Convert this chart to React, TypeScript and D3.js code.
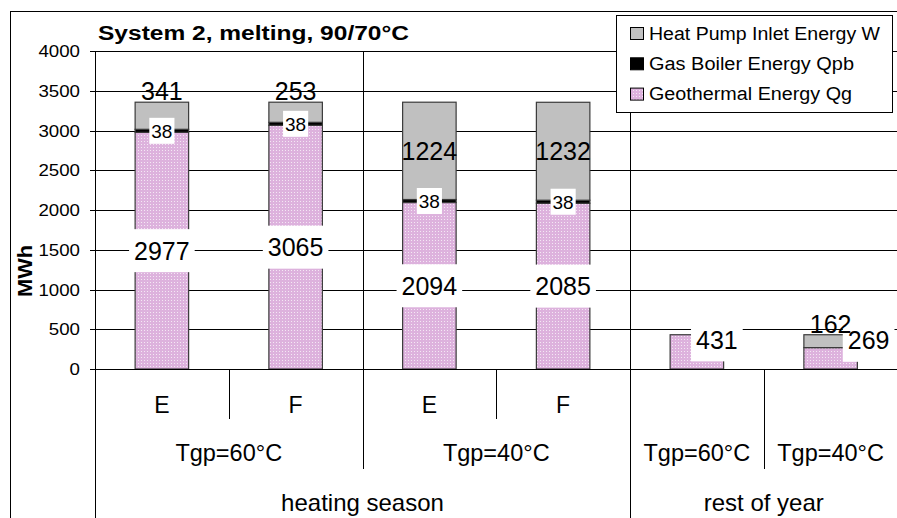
import React from 'react';
import * as d3 from 'd3';

const categories = ['E', 'F', 'E', 'F', '', ''];
const tgpLabels = ['Tgp=60°C', 'Tgp=40°C', 'Tgp=60°C', 'Tgp=40°C'];
const tgpSpans = [2, 2, 1, 1];
const seasonLabels = ['heating season', 'rest of year'];
const seasonSpans = [4, 2];
const geothermalQg = [2977, 3065, 2094, 2085, 431, 269];
const gasBoilerQpb = [38, 38, 38, 38, 0, 0];
const heatPumpW = [341, 253, 1224, 1232, 0, 162];
const yTicks = [0, 500, 1000, 1500, 2000, 2500, 3000, 3500, 4000];
const legendLabels = ['Heat Pump Inlet Energy W', 'Gas Boiler Energy Qpb', 'Geothermal Energy Qg'];
// manual label shifts (px) for the Qg labels of the small bars
const qgLabelShift: [number, number][] = [[0, 0], [0, 0], [0, 0], [0, 0], [20, -12], [38, -18]];
const dividerIdx = [2, 4];

const W = 897, H = 518;
const plotL = 95, plotR = 897.5, plotT = 51, plotB = 369;
const FONT = '"Liberation Sans", Arial, sans-serif';
const GREY = '#C0C0C0';
const EDGE = '#3a3a3a';
const PINK = '#DDB2DD';

export default function App() {
  const x = d3.scaleBand<number>().domain(d3.range(categories.length)).range([plotL, plotR]).paddingInner(0).paddingOuter(0);
  const y = d3.scaleLinear().domain([0, 4000]).range([plotB, plotT]);
  const step = x.step();
  const bw = step * 0.4;
  const xb = (i: number) => plotL + i * step;
  const cx = (i: number) => (x(i) as number) + step / 2;

  const cum = (spans: number[]) => {
    const out: number[] = [];
    let s = 0;
    spans.forEach((v) => { out.push(s); s += v; });
    return out;
  };
  const tgpStarts = cum(tgpSpans);
  const seasonStarts = cum(seasonSpans);

  const segs = categories.map((_, i) => {
    const q0 = 0, q1 = geothermalQg[i];
    const p1 = q1 + gasBoilerQpb[i];
    const w1 = p1 + heatPumpW[i];
    return { q0, q1, p1, w1 };
  });

  const bigFs = 25, smallFs = 19;

  return (
    <svg width={W} height={H} style={{ position: 'absolute', left: 0, top: 0, display: 'block', background: '#fff' }} fontFamily={FONT}>
      <defs>
        <pattern id="geo" x="0" y="0" width="3" height="3" patternUnits="userSpaceOnUse">
          <rect x="0" y="0" width="3" height="3" fill={PINK} />
          <rect x="0" y="0" width="1" height="1" fill="#F4E8F4" />
        </pattern>
      </defs>
      <rect x={0} y={0} width={W} height={H} fill="#fff" />
      {/* outer chart border */}
      <rect x={10.5} y={11.5} width={W + 10} height={H + 10} fill="none" stroke="#000" strokeWidth={1} />

      {/* gridlines */}
      {yTicks.filter((t) => t > 0).map((t) => (
        <line key={'g' + t} x1={plotL} x2={plotR} y1={Math.round(y(t)) + 0.5} y2={Math.round(y(t)) + 0.5} stroke="#000" strokeWidth={1} />
      ))}
      {/* vertical dividers in plot */}
      {dividerIdx.map((d) => (
        <line key={'d' + d} x1={Math.round(xb(d)) + 0.5} x2={Math.round(xb(d)) + 0.5} y1={plotT} y2={plotB} stroke="#000" strokeWidth={1} />
      ))}

      {/* bars */}
      {segs.map((s, i) => {
        const x0 = cx(i) - bw / 2;
        const parts = [
          { a: s.q0, b: s.q1, fill: 'url(#geo)' },
          { a: s.q1, b: s.p1, fill: '#000' },
          { a: s.p1, b: s.w1, fill: GREY },
        ].filter((p) => p.b > p.a);
        return (
          <g key={'b' + i}>
            {parts.map((p, k) => (
              <rect key={k} x={x0} y={y(p.b)} width={bw} height={y(p.a) - y(p.b)} fill={p.fill} stroke={EDGE} strokeWidth={1.2} />
            ))}
          </g>
        );
      })}

      {/* y axis */}
      <line x1={plotL + 0.5} x2={plotL + 0.5} y1={plotT} y2={H} stroke="#000" strokeWidth={1} />
      <line x1={plotL} x2={plotR} y1={Math.round(plotB) + 0.5} y2={Math.round(plotB) + 0.5} stroke="#000" strokeWidth={1} />
      {yTicks.map((t) => (
        <g key={'t' + t}>
          <line x1={plotL - 5} x2={plotL} y1={Math.round(y(t)) + 0.5} y2={Math.round(y(t)) + 0.5} stroke="#000" />
          <g transform={`translate(80,${y(t)}) scale(1.1,1)`}>
            <text textAnchor="end" dy="0.36em" fontSize={17} fill="#000">{t}</text>
          </g>
        </g>
      ))}
      <text transform={`translate(32,271) rotate(-90)`} textAnchor="middle" fontSize={20} fontWeight="bold" textLength={52} lengthAdjust="spacingAndGlyphs">MWh</text>

      {/* multi-level category axis */}
      {d3.range(1, categories.length).map((b) => {
        const isSeason = seasonStarts.includes(b);
        const isTgp = tgpStarts.includes(b);
        const y2 = isSeason ? H : isTgp ? 469 : 419;
        return <line key={'c' + b} x1={Math.round(xb(b)) + 0.5} x2={Math.round(xb(b)) + 0.5} y1={plotB} y2={y2} stroke="#000" strokeWidth={1} />;
      })}
      {categories.map((c, i) => (
        <text key={'cl' + i} x={cx(i)} y={413} textAnchor="middle" fontSize={23}>{c}</text>
      ))}
      {tgpLabels.map((l, k) => (
        <text key={'tg' + k} x={xb(tgpStarts[k]) + (tgpSpans[k] * step) / 2} y={461} textAnchor="middle" fontSize={23.5}>{l}</text>
      ))}
      {seasonLabels.map((l, k) => (
        <text key={'se' + k} x={xb(seasonStarts[k]) + (seasonSpans[k] * step) / 2} y={510.5} textAnchor="middle" fontSize={24}>{l}</text>
      ))}

      {/* data labels */}
      {segs.map((s, i) => {
        const c = cx(i);
        const out: JSX.Element[] = [];
        const qv = geothermalQg[i];
        if (qv > 0) {
          const [dx, dy] = qgLabelShift[i];
          const lx = c + dx, ly = (y(s.q0) + y(s.q1)) / 2 + dy;
          const txt = String(qv);
          const bwid = txt.length * 0.556 * bigFs + 10;
          out.push(<rect key="qb" x={lx - bwid / 2} y={ly - 21.5} width={bwid} height={43} fill="#fff" />);
          out.push(<text key="qt" x={lx} y={ly} dy="0.36em" textAnchor="middle" fontSize={bigFs}>{txt}</text>);
        }
        const pv = gasBoilerQpb[i];
        if (pv > 0) {
          const ly = (y(s.q1) + y(s.p1)) / 2;
          const txt = String(pv);
          const bwid = txt.length * 0.556 * smallFs + 4;
          out.push(<rect key="pb" x={c - bwid / 2} y={ly - 13} width={bwid} height={26} fill="#fff" />);
          out.push(<text key="pt" x={c} y={ly} dy="0.36em" textAnchor="middle" fontSize={smallFs}>{txt}</text>);
        }
        const wv = heatPumpW[i];
        if (wv > 0) {
          const segH = y(s.p1) - y(s.w1);
          const txt = String(wv);
          if (segH < 30) {
            out.push(<text key="wt" x={c} y={y(s.w1) - 2} textAnchor="middle" fontSize={bigFs}>{txt}</text>);
          } else {
            out.push(<text key="wt" x={c} y={(y(s.p1) + y(s.w1)) / 2} dy="0.36em" textAnchor="middle" fontSize={bigFs}>{txt}</text>);
          }
        }
        return <g key={'l' + i}>{out}</g>;
      })}

      {/* title */}
      <text x={98} y={39.5} fontSize={20} fontWeight="bold" textLength={311} lengthAdjust="spacingAndGlyphs">System 2, melting, 90/70°C</text>

      {/* legend */}
      <rect x={616.5} y={15.5} width={276} height={97} fill="#fff" stroke="#000" strokeWidth={1} />
      {legendLabels.map((l, k) => {
        const base = 39.5 + k * 30.3;
        const fills = [GREY, '#000', 'url(#geo)'];
        const lens = [231, 205, 203];
        return (
          <g key={'lg' + k}>
            <rect x={630.5} y={base - 12} width={13} height={12} fill={fills[k]} stroke="#000" strokeWidth={1} />
            <text x={649} y={base} fontSize={18} textLength={lens[k]} lengthAdjust="spacingAndGlyphs">{l}</text>
          </g>
        );
      })}
    </svg>
  );
}
